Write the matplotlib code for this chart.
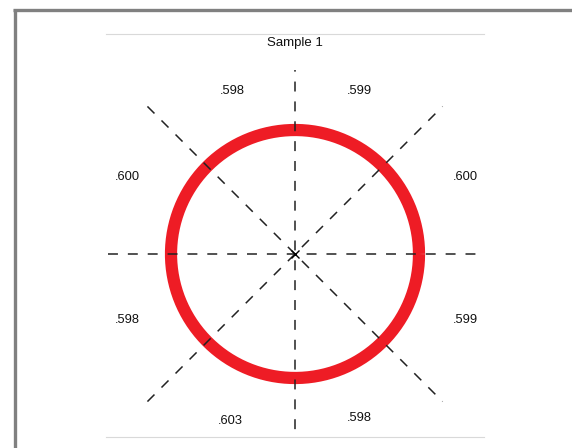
import numpy as np
import matplotlib
matplotlib.use("Agg")
import matplotlib.pyplot as plt
from matplotlib.lines import Line2D

# ---- data ----
title = "Sample 1"
# octant readings, listed by angle (degrees, counter-clockwise from +x)
octant_angles = [67.5, 22.5, -22.5, -67.5, -112.5, -157.5, 157.5, 112.5]
octant_values = [".599", ".600", ".599", ".598", ".603", ".598", ".600", ".598"]
circle_radius = 1.0

plt.rcParams['font.family'] = ['Liberation Sans', 'DejaVu Sans']

W, H = 572, 448
fig = plt.figure(figsize=(W / 100, H / 100), dpi=100)
fig.patch.set_facecolor('white')

# pixel scale: one radius unit = 124 px
S = 124.0
ax_l, ax_r, ax_t, ax_b = 106, 484, 34, 437
cx, cy = 295, 254
ax = fig.add_axes([ax_l / W, (H - ax_b) / H, (ax_r - ax_l) / W, (ax_b - ax_t) / H])
ax.set_xlim((ax_l - cx) / S, (ax_r - cx) / S)
ax.set_ylim((cy - ax_b) / S, (cy - ax_t) / S)
ax.set_xticks([])
ax.set_yticks([])
for side in ['left', 'right']:
    ax.spines[side].set_visible(False)
for side in ['top', 'bottom']:
    ax.spines[side].set_color('#d9d9d9')
    ax.spines[side].set_linewidth(0.8)

# ring
t = np.linspace(0, 2 * np.pi, 400)
ax.plot(circle_radius * np.cos(t), circle_radius * np.sin(t), color='#ee1c25',
        lw=8.8, solid_capstyle='butt', zorder=2)

# dashed guide lines
dash_kw = dict(color='#222222', lw=1.1, dashes=(6.5, 6.5), zorder=3)
ax.plot([-187 / S, 188 / S], [0, 0], **dash_kw)
ax.plot([0, 0], [-1.6, 184 / S], **dash_kw)
d = 1.19
ax.plot([-d, d], [d, -d], **dash_kw)
ax.plot([-d, d], [-d, d], **dash_kw)

# center marker
ax.plot([0], [0], marker='x', color='black', ms=6, mew=1.0, zorder=4)

# labels
label_offsets = {67.5: (64, 163), 22.5: (170, 77), -22.5: (170, -66), -67.5: (64, -164),
                 -112.5: (-65, -167), -157.5: (-168, -66), 157.5: (-168, 77), 112.5: (-63, 163)}
for ang, val in zip(octant_angles, octant_values):
    dx, dy = label_offsets[ang]
    ax.text(dx / S, dy / S, val, ha='center', va='center', fontsize=9.3, color='#111111')

ax.text(0.5, 1 - 9 / (ax_b - ax_t), title, transform=ax.transAxes, ha='center', va='center',
        fontsize=9.5, color='#111111')

# outer frame (left and top)
fig.add_artist(Line2D([14.5 / W, 14.5 / W], [0, 1 - 9 / H], color='#808080', lw=2.4,
                      transform=fig.transFigure, solid_capstyle='butt'))
fig.add_artist(Line2D([13 / W, 1], [1 - 10.5 / H, 1 - 10.5 / H], color='#808080', lw=2.4,
                      transform=fig.transFigure, solid_capstyle='butt'))

fig.savefig('out.png', dpi=100, facecolor='white')
